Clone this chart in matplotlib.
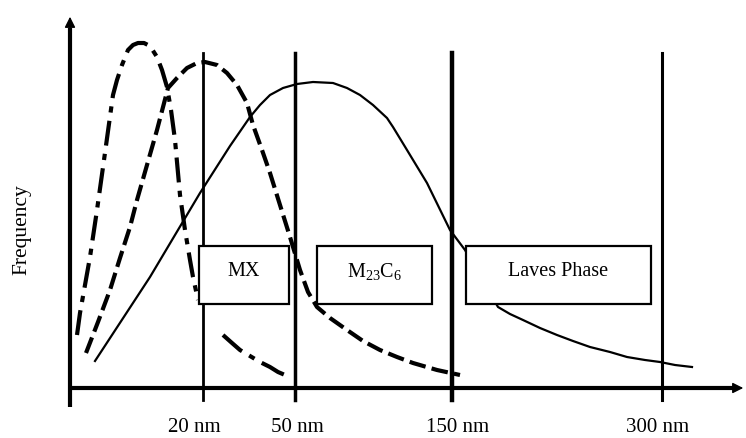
import matplotlib.pyplot as plt

# schematic, in pixel units of the 746x438 image (y grows downward)
mx_x = [77, 80, 90, 97, 104, 113, 117, 122, 128, 133, 138, 144, 150, 157, 162,
        167, 171, 175, 180, 185, 190, 193, 198]
mx_y = [335, 313, 257, 210, 160, 95, 80, 65, 50, 45, 43, 43, 46, 57, 70,
        87, 110, 140, 195, 230, 260, 277, 300]
mx_tail_x = [223, 232, 240, 250, 260, 270, 278, 285, 290]
mx_tail_y = [335, 343, 350, 356, 362, 367, 372, 375, 377]

m23_x = [86, 98, 110, 120, 130, 137, 147, 157, 168, 177, 187, 197, 205, 217,
         227, 237, 247, 253, 262, 270, 280, 290, 300, 308, 317, 330, 347, 363,
         380, 397, 413, 437, 460]
m23_y = [353, 322, 290, 258, 227, 200, 165, 130, 88, 78, 68, 63, 62, 65,
         73, 85, 103, 125, 150, 173, 205, 237, 270, 292, 307, 318, 330, 341,
         350, 357, 363, 370, 375]

laves_x = [95, 150, 200, 230, 250, 260, 270, 283, 297, 313, 333, 347, 360, 373,
           387, 393, 407, 427, 450, 465, 498, 510, 523, 540, 557, 573, 590,
           610, 627, 645, 660, 675, 692]
laves_y = [361, 277, 193, 146, 117, 105, 95, 88, 84, 82, 83, 88, 95, 105,
           118, 127, 150, 183, 230, 250, 307, 314, 320, 328, 335, 341, 347,
           352, 357, 360, 362, 365, 367]

size_x = [203, 295, 452, 662]
size_labels = ['20 nm', '50 nm', '150 nm', '300 nm']
label_x = [194, 297, 458, 658]

phases = ['MX', 'M$_{23}$C$_6$', 'Laves Phase']
box_left = [199, 317, 466]
box_right = [289, 432, 651]
box_top = 246
box_bottom = 304

plt.rcParams['font.family'] = ['Liberation Serif', 'DejaVu Serif']
plt.rcParams['mathtext.fontset'] = 'custom'
plt.rcParams['mathtext.rm'] = 'Liberation Serif'

fig = plt.figure(figsize=(7.46, 4.38), dpi=100)
ax = fig.add_axes([0, 0, 1, 1])
ax.set_xlim(0, 746)
ax.set_ylim(438, 0)
ax.axis('off')

# axes with arrows
ax.plot([70, 70], [407, 28], color='black', lw=3, solid_capstyle='butt')
ax.plot([68, 733], [388, 388], color='black', lw=3, solid_capstyle='butt')
ax.annotate('', xy=(70, 14), xytext=(70, 32),
            arrowprops=dict(arrowstyle='-|>', color='black', lw=1,
                            mutation_scale=16))
ax.annotate('', xy=(746, 388), xytext=(728, 388),
            arrowprops=dict(arrowstyle='-|>', color='black', lw=1,
                            mutation_scale=16))

# size boundaries
for x, w in zip(size_x, [2, 2.5, 3.2, 2.2]):
    ax.plot([x, x], [53, 400], color='black', lw=w)

# distributions
ax.plot(mx_x, mx_y, color='black', lw=3, dashes=(6, 2, 1.5, 2),
        solid_joinstyle='round', dash_joinstyle='round')
ax.plot(mx_tail_x, mx_tail_y, color='black', lw=3, dashes=(6, 2, 1.5, 2),
        dash_joinstyle='round')
ax.plot(m23_x, m23_y, color='black', lw=3, dashes=(4, 1.5),
        dash_joinstyle='round')
ax.plot(laves_x, laves_y, color='black', lw=1.6, solid_joinstyle='round')

# phase boxes
for name, l, r in zip(phases, box_left, box_right):
    ax.add_patch(plt.Rectangle((l, box_top), r - l, box_bottom - box_top,
                               facecolor='white', edgecolor='black', lw=1.6,
                               zorder=5))
    ax.text((l + r) / 2, 272, name, ha='center', va='center', fontsize=14.5,
            zorder=6)

for x, s in zip(label_x, size_labels):
    ax.text(x, 427, s, ha='center', va='center', fontsize=15)

ax.text(22, 230, 'Frequency', rotation=90, ha='center', va='center',
        fontsize=15.5)

fig.savefig('out.png', dpi=100)
